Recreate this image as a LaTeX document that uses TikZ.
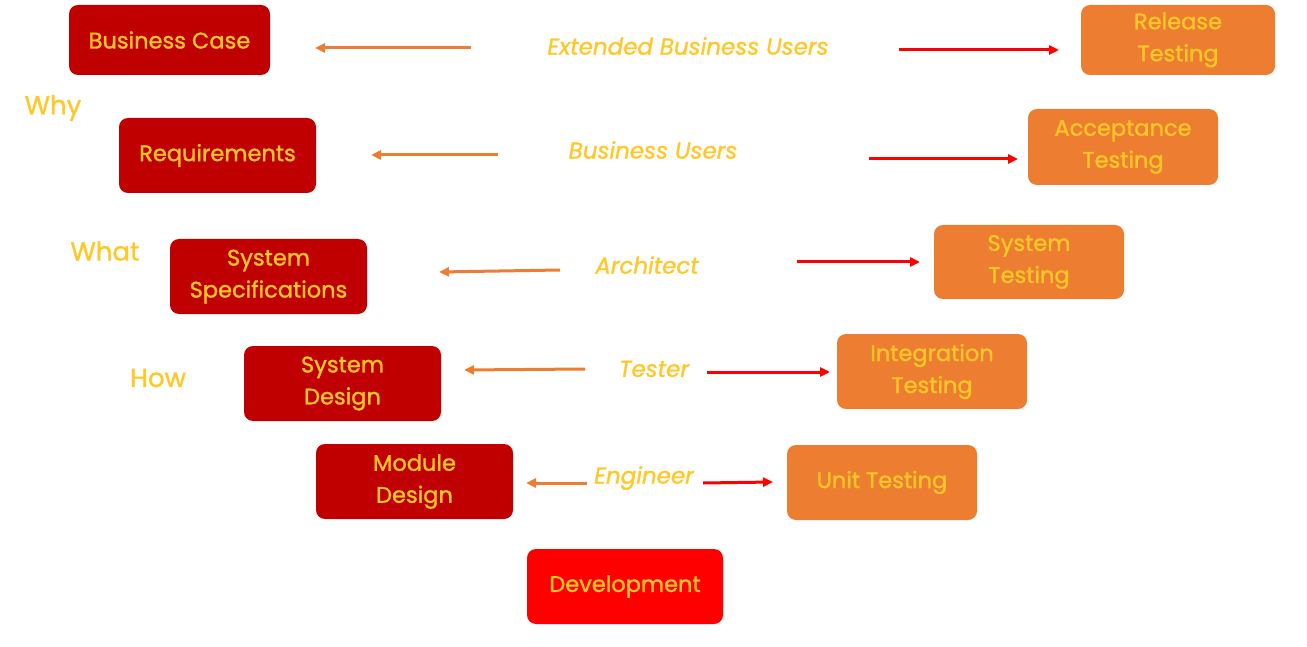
\documentclass[tikz,border=0pt]{standalone}
\usepackage{fontspec}
\setmainfont{Poppins}[FakeBold=1.2]
\usetikzlibrary{arrows.meta}
\definecolor{dred}{RGB}{192,0,0}
\definecolor{orng}{RGB}{237,125,49}
\definecolor{bred}{RGB}{255,0,0}
\definecolor{ytxt}{RGB}{255,200,40}
\tikzset{
  box/.style={rounded corners=9pt, minimum width=197pt, minimum height=75pt, align=center, text=ytxt, font=\fontsize{22.5}{32}\selectfont, inner sep=0pt},
  dbox/.style={box, fill=dred},
  obox/.style={box, fill=orng, minimum width=190pt},
  rbox/.style={box, fill=bred},
  role/.style={text=ytxt, font=\fontsize{23}{26}\selectfont\itshape, inner sep=0pt},
  side/.style={text=ytxt, font=\fontsize{26}{28}\selectfont, inner sep=0pt},
  larr/.style={draw=orng, line width=3pt, -{Triangle[length=10pt,width=9pt]}},
  rarr/.style={draw=bred, line width=3pt, -{Triangle[length=10pt,width=9pt]}},
}
\begin{document}
\begin{tikzpicture}[x=1pt,y=-1pt]
\useasboundingbox (0,0) rectangle (1307,647);
% left boxes
\node[dbox, minimum width=201pt, minimum height=70pt] (bc) at (169.5,40) {Business Case};
\node[dbox] (req) at (217.5,155.5) {Requirements};
\node[dbox] (ss) at (268.5,276.5) {System\\Specifications};
\node[dbox] (sd) at (342.5,383.5) {System\\Design};
\node[dbox] (md) at (414.5,481.5) {Module\\Design};
\node[rbox, minimum width=196pt] (dev) at (625,586.5) {Development};
% right boxes
\node[obox] (ut) at (882,482.5) {Unit Testing};
\node[obox] (it) at (932,371.5) {Integration\\Testing};
\node[obox, minimum height=74pt] (st) at (1029,262) {System\\Testing};
\node[obox, minimum height=76pt] (at) at (1123,147) {Acceptance\\Testing};
\node[obox, minimum width=194pt, minimum height=70pt] (rt) at (1178,40) {Release\\Testing};
% side labels
\node[side] (why) at (53,108) {Why};
\node[side] (what) at (105,251) {What};
\node[side] (how) at (158,378) {How};
% roles
\node[role] (ebu) at (688,46) {Extended Business Users};
\node[role] (bu) at (653,150) {Business Users};
\node[role] (arch) at (647,265) {Architect};
\node[role] (test) at (654,369) {Tester};
\node[role] (eng) at (644,478) {Engineer};
% arrow ends
\coordinate (a1s) at (471,48);  \coordinate (a1e) at (315,48);
\coordinate (b1s) at (899,50);  \coordinate (b1e) at (1059,50);
\coordinate (a2s) at (498,155); \coordinate (a2e) at (371,155);
\coordinate (b2s) at (869,159); \coordinate (b2e) at (1018,159);
\coordinate (a3s) at (560,270); \coordinate (a3e) at (439,272);
\coordinate (b3s) at (797,262); \coordinate (b3e) at (920,262);
\coordinate (a4s) at (585,369); \coordinate (a4e) at (464,370);
\coordinate (b4s) at (707,372); \coordinate (b4e) at (830,372);
\coordinate (a5s) at (587,483); \coordinate (a5e) at (526,483);
\coordinate (b5s) at (703,483); \coordinate (b5e) at (773,482);
\draw[larr] (a1s) -- (a1e);
\draw[rarr] (b1s) -- (b1e);
\draw[larr] (a2s) -- (a2e);
\draw[rarr] (b2s) -- (b2e);
\draw[larr] (a3s) -- (a3e);
\draw[rarr] (b3s) -- (b3e);
\draw[larr] (a4s) -- (a4e);
\draw[rarr] (b4s) -- (b4e);
\draw[larr] (a5s) -- (a5e);
\draw[rarr] (b5s) -- (b5e);
\end{tikzpicture}
\end{document}
